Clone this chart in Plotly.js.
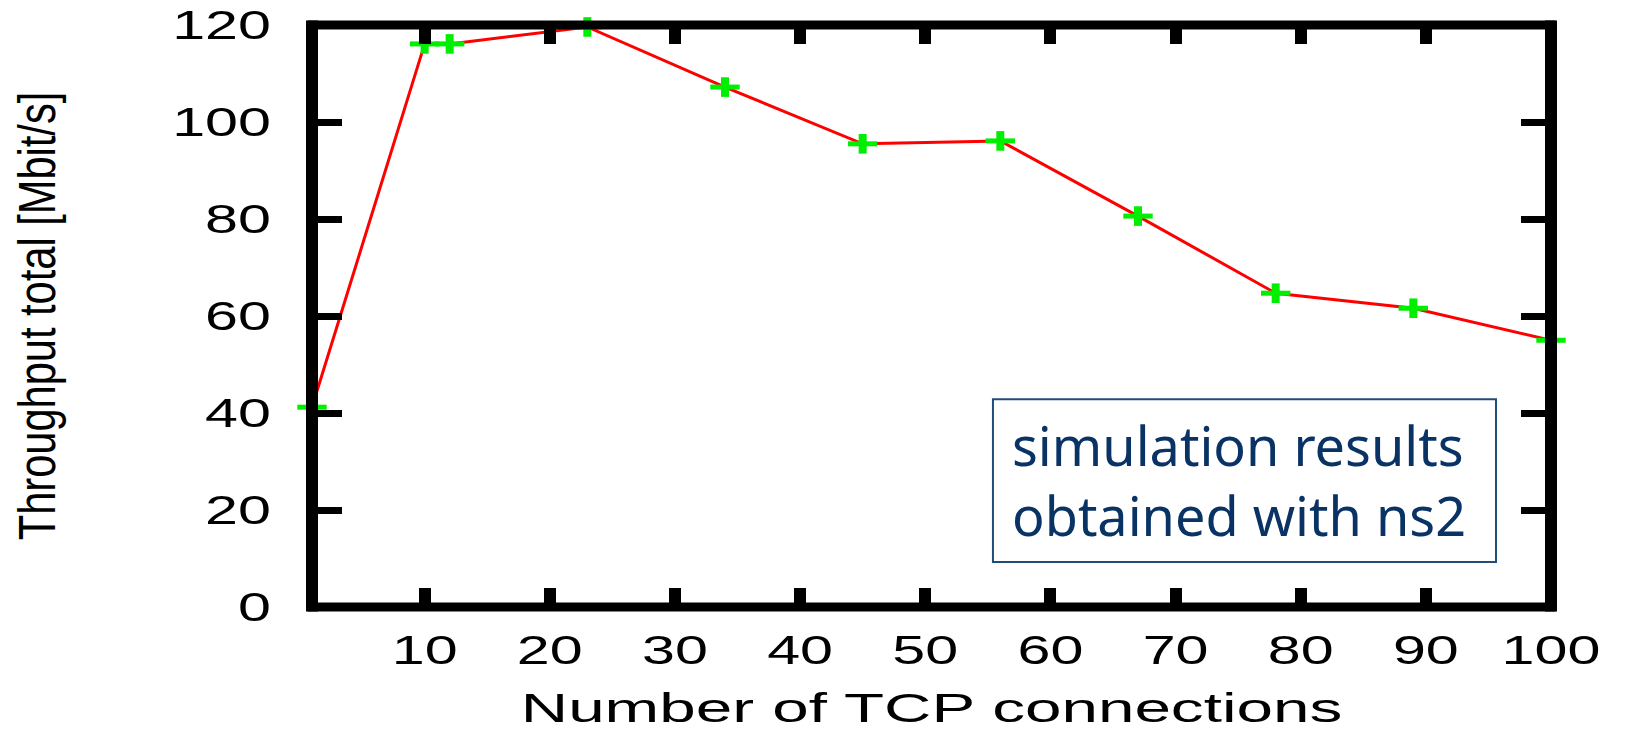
<!DOCTYPE html>
<html>
<head>
<meta charset="utf-8">
<script src="https://cdn.plot.ly/plotly-3.0.1.min.js"></script>
<style>
  html, body { margin: 0; padding: 0; background: #ffffff; }
  #chart { width: 1627px; height: 731px; }
</style>
</head>
<body>
<div id="chart"></div>
<script>
// ---- data ----
const connections = [1, 10, 12, 23, 34, 45, 56, 67, 78, 89, 100];
const throughput  = [41.2, 116.1, 116.1, 119.6, 107.2, 95.5, 96.1, 80.6, 64.7, 61.6, 55.0];
const xTickVals = [10, 20, 30, 40, 50, 60, 70, 80, 90, 100];
const yTickVals = [0, 20, 40, 60, 80, 100, 120];
const xTitle = 'Number of TCP connections';
const yTitle = 'Throughput total [Mbit/s]';
const noteLines = ['simulation results', 'obtained with ns2'];

const axisFont = 'Liberation Sans, Arial, Helvetica, sans-serif';

const traces = [
  { x: connections, y: throughput, mode: 'lines', type: 'scatter',
    line: { color: '#ff0000', width: 3 }, cliponaxis: false, showlegend: false, hoverinfo: 'skip' },
  { x: connections, y: throughput, mode: 'markers', type: 'scatter',
    marker: { symbol: 'line-ew', size: 21, color: '#00ee00', line: { color: '#00ee00', width: 5 } },
    cliponaxis: false, showlegend: false },
  { x: connections, y: throughput, mode: 'markers', type: 'scatter',
    marker: { symbol: 'line-ns', size: 14, color: '#00ee00', line: { color: '#00ee00', width: 8 } },
    cliponaxis: false, showlegend: false }
];

const layout = {
  width: 1627, height: 731, autosize: false,
  paper_bgcolor: '#ffffff', plot_bgcolor: '#ffffff',
  margin: { l: 312, r: 76, t: 25, b: 124, pad: 0 },
  showlegend: false,
  xaxis: {
    range: [1, 100], tickmode: 'array', tickvals: xTickVals,
    ticks: 'inside', ticklen: 19, tickwidth: 12, tickcolor: '#000000',
    mirror: 'ticks', showline: false, showgrid: false, zeroline: false,
    tickfont: { family: axisFont, size: 40, color: '#000000' },
    ticklabelstandoff: 16,
    title: { text: xTitle, font: { family: axisFont, size: 41, color: '#000000' }, standoff: 28 }
  },
  yaxis: {
    range: [0, 120], tickmode: 'array', tickvals: yTickVals,
    ticks: 'inside', ticklen: 30, tickwidth: 7, tickcolor: '#000000',
    mirror: 'ticks', showline: false, showgrid: false, zeroline: false,
    tickfont: { family: axisFont, size: 40, color: '#000000' },
    ticklabelstandoff: 40,
    title: { text: yTitle, font: { family: axisFont, size: 52, color: '#000000' }, standoff: 132 }
  },
  shapes: [
    { type: 'rect', xref: 'paper', yref: 'paper', x0: 0, x1: 1, y0: 0, y1: 1,
      line: { color: '#000000', width: 9 }, layer: 'above' },
    { type: 'line', xref: 'paper', yref: 'paper', x0: 0, x1: 0, y0: -0.0077, y1: 1.0077,
      line: { color: '#000000', width: 12 }, layer: 'above' },
    { type: 'line', xref: 'paper', yref: 'paper', x0: 1, x1: 1, y0: -0.0077, y1: 1.0077,
      line: { color: '#000000', width: 12 }, layer: 'above' },
    { type: 'rect', xref: 'paper', yref: 'paper', x0: 0.5496, x1: 0.9556, y0: 0.0773, y1: 0.357,
      line: { color: '#1f4e79', width: 2 }, fillcolor: 'rgba(255,255,255,0)', layer: 'above' }
  ],
  annotations: [
    { xref: 'paper', yref: 'paper', x: 0.5634, y: 0.218, xanchor: 'left', yanchor: 'middle',
      align: 'left', showarrow: false, text: noteLines.join('<br>'),
      font: { family: 'Noto Sans, Open Sans, DejaVu Sans, sans-serif', size: 54, color: '#0a3365' } }
  ]
};

function stretch(selector, s, anchor) {
  document.querySelectorAll(selector).forEach(function (el) {
    const bb = el.getBBox();
    let cx = bb.x + bb.width / 2;
    if (anchor === 'end') cx = bb.x + bb.width;
    const t = el.getAttribute('transform') || '';
    el.setAttribute('transform', t + ' translate(' + cx + ',0) scale(' + s + ',1) translate(' + (-cx) + ',0)');
  });
}

Plotly.newPlot('chart', traces, layout, { staticPlot: true }).then(function () {
  stretch('.xtick text', 1.48, 'middle');
  stretch('.ytick text', 1.48, 'end');
  stretch('.xtitle', 1.6, 'middle');
  stretch('.ytitle', 0.8, 'middle');
});
</script>
</body>
</html>
